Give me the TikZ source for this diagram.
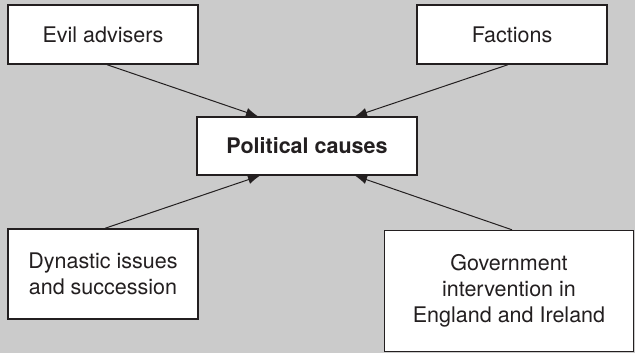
\documentclass[tikz,border=0pt]{standalone}
\usepackage{fontspec}
\setmainfont{TeX Gyre Heros}
\usetikzlibrary{arrows.meta,calc}
\definecolor{bggray}{HTML}{CBCBCB}
\definecolor{ink}{HTML}{231F20}
\begin{document}
\begin{tikzpicture}[x=1pt,y=-1pt,
  cbox/.style={draw=ink,line width=1.4pt,fill=white,inner sep=0pt,
    align=center,font=\fontsize{21.5}{26}\selectfont,text=ink},
  link/.style={draw=ink,line width=1pt,-{Latex[length=12pt,width=9pt]}}]
\fill[bggray] (0,0) rectangle (635,353);
\useasboundingbox (0,0) rectangle (635,353);
\node[cbox,minimum width=190pt,minimum height=59pt] (ea) at (103,34.5) {Evil advisers};
\node[cbox,minimum width=190pt,minimum height=59pt] (fa) at (512,34.5) {Factions};
\node[cbox,minimum width=220pt,minimum height=58pt,font=\fontsize{21.5}{26}\selectfont\bfseries] (pc) at (307,146) {Political causes};
\node[cbox,minimum width=190pt,minimum height=90pt] (dy) at (103,274) {Dynastic issues\\and succession};
\node[cbox,minimum width=249pt,minimum height=121pt] (gov) at (509,291) {Government\\intervention in\\England and Ireland};
\draw[link] ($(ea.south)+(4,0)$) -- ($(pc.north)+(-49,0)$);
\draw[link] ($(fa.south)+(-4,0)$) -- ($(pc.north)+(48,0)$);
\draw[link] ($(dy.north)+(2,0)$) -- ($(pc.south)+(-47,0)$);
\draw[link] ($(gov.north)+(3,0)$) -- ($(pc.south)+(48,0)$);
\end{tikzpicture}
\end{document}
